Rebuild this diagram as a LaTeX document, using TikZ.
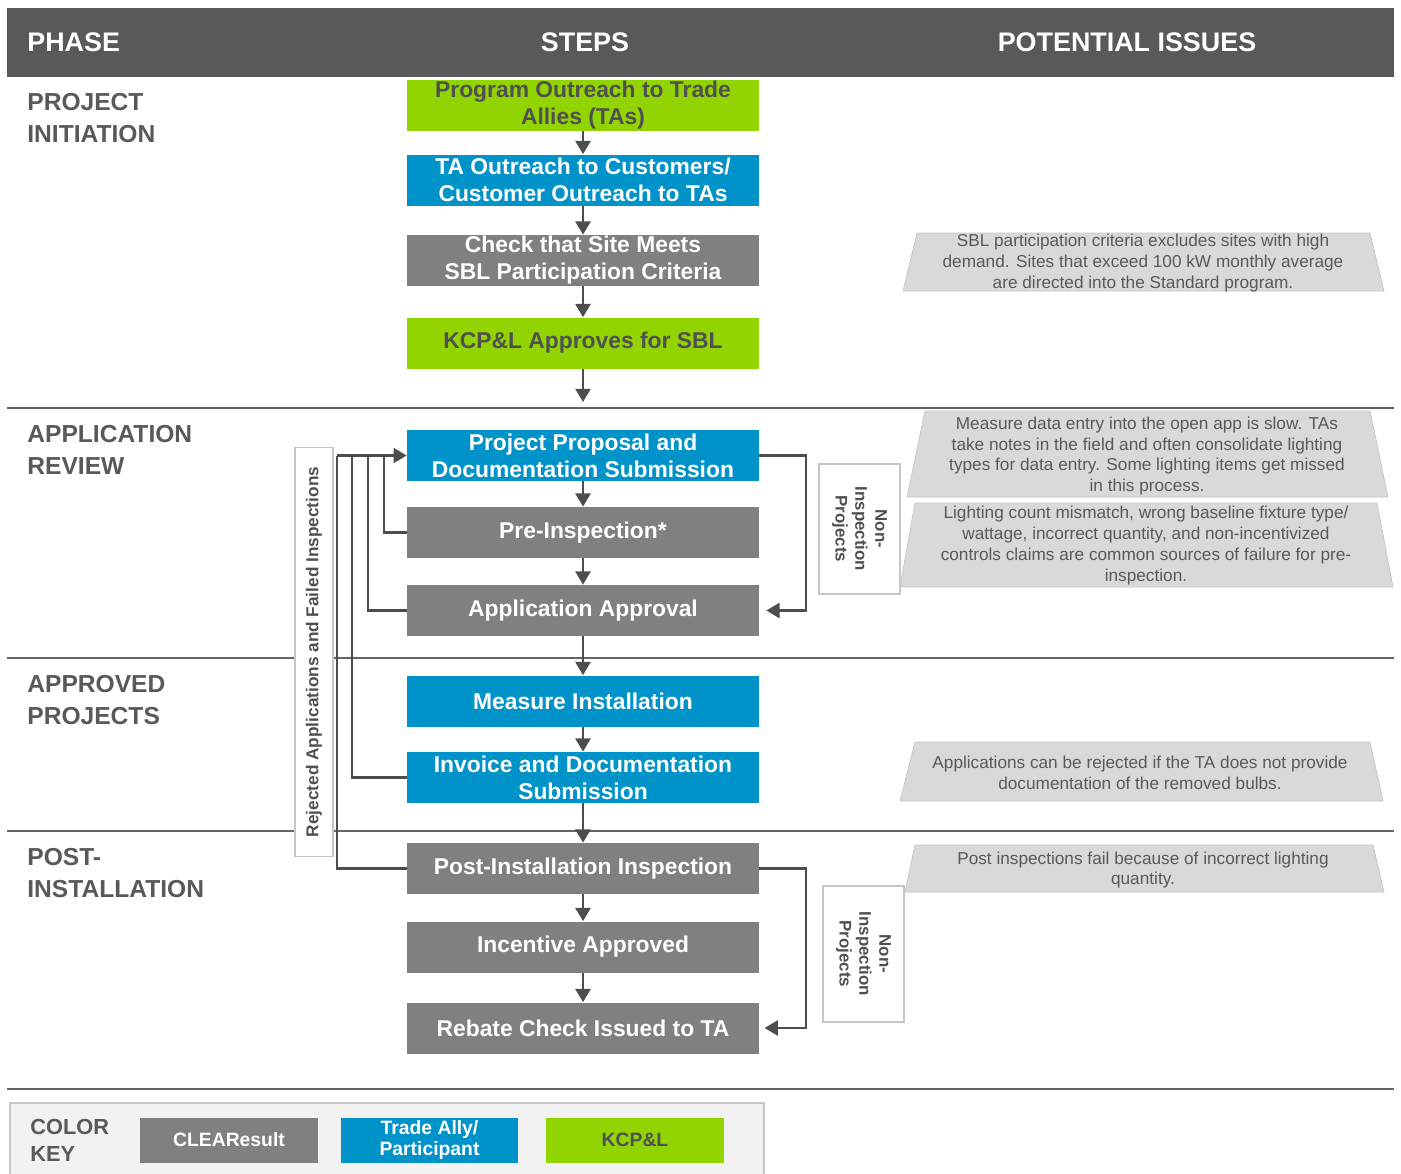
\documentclass[tikz,border=0pt]{standalone}
\usepackage{fontspec}
\setmainfont{Liberation Sans}
\usetikzlibrary{arrows.meta}

\definecolor{hdrgray}{RGB}{88,89,91}
\definecolor{clrgray}{RGB}{128,128,128}
\definecolor{tablue}{RGB}{0,147,201}
\definecolor{kcpgreen}{RGB}{146,212,0}
\definecolor{txtgray}{RGB}{89,89,89}
\definecolor{darktxt}{RGB}{80,80,82}
\definecolor{issuefill}{RGB}{217,217,217}
\definecolor{arrgray}{RGB}{77,77,79}
\definecolor{rulegray}{RGB}{100,100,100}
\definecolor{keyfill}{RGB}{242,242,242}

\tikzset{
  stepbox/.style={minimum width=7.04cm, minimum height=1.02cm, inner sep=0pt,
    align=center, font=\bfseries\fontsize{13}{15.3}\selectfont},
  clrbox/.style={stepbox, fill=clrgray, text=white},
  tabox/.style={stepbox, fill=tablue, text=white},
  kcpbox/.style={stepbox, fill=kcpgreen, text=darktxt},
  phaselbl/.style={anchor=west, inner sep=0pt, align=left, text=txtgray,
    font=\bfseries\fontsize{14}{18}\selectfont},
  hdrlbl/.style={inner sep=0pt, text=white, font=\bfseries\fontsize{15.3}{18}\selectfont},
  issue/.style={fill=issuefill, draw=gray!45, line width=0.4pt},
  issuetxt/.style={align=center, inner sep=0pt, text=txtgray,
    font=\fontsize{9.8}{11.9}\selectfont},
  sideboxv/.style={draw=gray!45, fill=white, line width=0.6pt, align=center,
    inner sep=0pt, text=darktxt},
  sep/.style={draw=rulegray, line width=1pt},
  fb/.style={draw=arrgray, line width=1.4pt},
  arr/.style={fb, -{Triangle[length=7.5pt,width=8.5pt]}},
  keybox/.style={minimum width=3.56cm, minimum height=0.9cm, inner sep=0pt,
    align=center, font=\bfseries\fontsize{11}{12}\selectfont}
}

\begin{document}
\begin{tikzpicture}[x=0.02cm,y=-0.02cm]
  \useasboundingbox (0,0) rectangle (1401,1174);
  % header
  \fill[hdrgray] (7,8) rectangle (1394,77);
  \node[hdrlbl,anchor=west] (hphase) at (27,42) {PHASE};
  \node[hdrlbl] (hsteps) at (585,42) {STEPS};
  \node[hdrlbl] (hissues) at (1127,42) {POTENTIAL ISSUES};

  \draw[sep] (7,408) -- (1394,408);
  \draw[sep] (7,658) -- (1394,658);
  \draw[sep] (7,831) -- (1394,831);
  \draw[sep] (7,1089) -- (1394,1089);

  \node[phaselbl] (p1) at (27,118) {PROJECT\\INITIATION};
  \node[phaselbl] (p2) at (27,450) {APPLICATION\\REVIEW};
  \node[phaselbl] (p3) at (27,700) {APPROVED\\PROJECTS};
  \node[phaselbl] (p4) at (27,873) {POST-\\INSTALLATION};

  % steps
  \node[kcpbox] (b1) at (583,105.5) {Program Outreach to Trade\\Allies (TAs)};
  \node[tabox] (b2) at (583,180) {TA Outreach to Customers/\\Customer Outreach to TAs};
  \node[clrbox] (b3) at (583,260.5) {Check that Site Meets\\SBL Participation Criteria};
  \node[kcpbox] (b4) at (583,343) {KCP\&L Approves for SBL};
  \node[tabox] (b5) at (583,455.5) {Project Proposal and\\Documentation Submission};
  \node[clrbox] (b6) at (583,532.5) {Pre-Inspection*};
  \node[clrbox] (b7) at (583,610.5) {Application Approval};
  \node[tabox] (b8) at (583,701) {Measure Installation};
  \node[tabox] (b9) at (583,777.5) {Invoice and Documentation\\Submission};
  \node[clrbox] (b10) at (583,868.5) {Post-Installation Inspection};
  \node[clrbox] (b11) at (583,947) {Incentive Approved};
  \node[clrbox] (b12) at (583,1028) {Rebate Check Issued to TA};
  \coordinate (e4) at (583,402);

  \draw[arr] (b1) -- (b2);
  \draw[arr] (b2) -- (b3);
  \draw[arr] (b3) -- (b4);
  \draw[arr] (b4) -- (e4);
  \draw[arr] (b5) -- (b6);
  \draw[arr] (b6) -- (b7);
  \draw[arr] (b7) -- (b8);
  \draw[arr] (b8) -- (b9);
  \draw[arr] (b9) -- (b10);
  \draw[arr] (b10) -- (b11);
  \draw[arr] (b11) -- (b12);

  % rejected loop
  \node[sideboxv,rotate=90,minimum width=8.2cm,minimum height=0.76cm,
    font=\bfseries\fontsize{9.8}{11}\selectfont] (rej) at (314,652)
    {Rejected Applications and Failed Inspections};
  \coordinate (k1) at (384,455.5);
  \coordinate (k2) at (368,455.5);
  \coordinate (k3) at (352,455.5);
  \coordinate (k4) at (337,455.5);
  \draw[fb] (b6.west) -| (k1);
  \draw[fb] (b7.west) -| (k2);
  \draw[fb] (b9.west) -| (k3);
  \draw[fb] (b10.west) -| (k4);
  \draw[arr] (k4) -- (b5.west);

  % non-inspection
  \node[sideboxv,rotate=-90,minimum width=2.6cm,minimum height=1.62cm,
    font=\bfseries\fontsize{9.6}{11.3}\selectfont] (ni1) at (859.5,529)
    {Non-\\Inspection\\Projects};
  \node[sideboxv,rotate=-90,minimum width=2.72cm,minimum height=1.62cm,
    font=\bfseries\fontsize{9.6}{11.3}\selectfont] (ni2) at (863.5,954)
    {Non-\\Inspection\\Projects};
  \coordinate (n1) at (806,455.5);
  \coordinate (n2) at (806,868.5);
  \draw[arr,shorten >=4pt] (b5.east) -- (n1) |- (b7.east);
  \draw[arr,shorten >=3pt] (b10.east) -- (n2) |- (b12.east);

  % potential issues
  \filldraw[issue] (917,233) -- (1370,233) -- (1384,291) -- (903,291) -- cycle;
  \node[issuetxt] (i1) at (1143,263) {SBL participation criteria excludes sites with high\\demand. Sites that exceed 100 kW monthly average\\are directed into the Standard program.};
  \filldraw[issue] (925,411) -- (1370,411) -- (1388,497) -- (907,497) -- cycle;
  \node[issuetxt] (i2) at (1147,456) {Measure data entry into the open app is slow. TAs\\take notes in the field and often consolidate lighting\\types for data entry. Some lighting items get missed\\in this process.};
  \filldraw[issue] (915,503) -- (1377,503) -- (1393,587) -- (900,587) -- cycle;
  \node[issuetxt] (i3) at (1146,545.5) {Lighting count mismatch, wrong baseline fixture type/\\wattage, incorrect quantity, and non-incentivized\\controls claims are common sources of failure for pre-\\inspection.};
  \filldraw[issue] (915,742) -- (1370,742) -- (1383,801) -- (900,801) -- cycle;
  \node[issuetxt] (i4) at (1140,773) {Applications can be rejected if the TA does not provide\\documentation of the removed bulbs.};
  \filldraw[issue] (915,845) -- (1373,845) -- (1384,892) -- (905,892) -- cycle;
  \node[issuetxt] (i5) at (1143,870) {Post inspections fail because of incorrect lighting\\quantity.};

  % colour key
  \filldraw[fill=keyfill, draw=gray!45, line width=0.6pt] (10,1103) rectangle (764,1180);
  \node[phaselbl,font=\bfseries\fontsize{12.4}{15.3}\selectfont] (ckey) at (30,1140) {COLOR\\KEY};
  \node[keybox,fill=clrgray,text=white] (kclr) at (229,1140) {CLEAResult};
  \node[keybox,fill=tablue,text=white] (kta) at (429.5,1140) {Trade Ally/\\Participant};
  \node[keybox,fill=kcpgreen,text=darktxt] (kkcp) at (635,1140) {KCP\&L};
\end{tikzpicture}
\end{document}
